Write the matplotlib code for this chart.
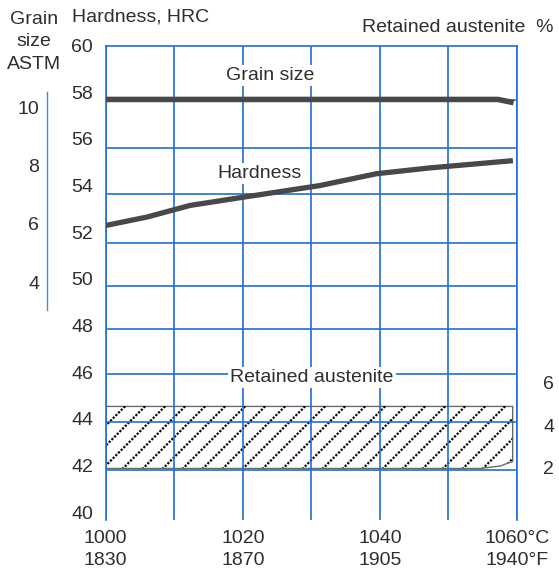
import numpy as np
import matplotlib.pyplot as plt

plt.rcParams['font.family'] = ['Liberation Sans', 'DejaVu Sans']

# hardening temperature, deg C (ticks) and the matching deg F labels
temp_ticks = [1000, 1020, 1040, 1060]
temp_labels = ['1000\n1830', '1020\n1870', '1040\n1905', '1060°C\n1940°F']

# hardness curve (HRC)
hard_temp = [1000, 1006, 1012.3, 1020, 1031.2, 1039.5, 1047.3, 1059.4]
hard_hrc = [52.29, 52.65, 53.15, 53.50, 54.0, 54.51, 54.76, 55.07]

# grain size curve (ASTM)
grain_temp = [1000, 1057.2, 1059.5]
grain_astm = [10.26, 10.26, 10.15]

# retained austenite band (%)
aust_temp = [1000, 1054.6, 1057.5, 1059.3]
aust_low = [2.0, 2.0, 2.12, 2.33]
aust_high = [4.92, 4.92, 4.92, 4.92]

hrc_ticks = list(range(40, 61, 2))
astm_ticks = [4, 6, 8, 10]
aust_ticks = [2, 4, 6]

# horizontal rules as drawn in the original (not quite on the labels)
grid_hrc = [57.69, 55.63, 53.66, 51.52, 49.68, 47.84, 45.91, 43.85, 41.80]

blue = '#1f6fd3'
ink = '#2e2e2e'
curve = '#484848'

fig = plt.figure(figsize=(5.59, 5.72), dpi=100)
fig.patch.set_facecolor('white')
rect = [105.7 / 559, 1 - 520 / 572, (517 - 105.7) / 559, (520 - 45.7) / 572]

ax = fig.add_axes(rect)
ax_r = ax.twinx()
ax_g = ax.twinx()
ax_r.set_zorder(0)
ax.set_zorder(1)
ax_g.set_zorder(2)
for a in (ax, ax_r, ax_g):
    a.patch.set_visible(False)

ax.set_xlim(1000, 1060)
ax.set_ylim(39.66, 59.97)
ax_g.set_ylim(-4.14, 12.10)
ax_r.set_ylim(-0.447, 21.87)

# main frame and grid
for s in ('top', 'left', 'right'):
    ax.spines[s].set_color(blue)
    ax.spines[s].set_linewidth(1.2)
ax.spines['bottom'].set_visible(False)
ax.set_xticks(temp_ticks)
ax.set_xticklabels(temp_labels, linespacing=1.38)
ax.set_xticks([1010, 1030, 1050], minor=True)
ax.tick_params(axis='x', which='both', length=0, pad=7, labelsize=14, labelcolor=ink)
ax.grid(axis='x', which='both', color=blue, lw=1.2)
ax.set_yticks(hrc_ticks)
ax.tick_params(axis='y', length=0, pad=9, labelsize=14, labelcolor=ink)
for lvl in grid_hrc:
    ax.axhline(lvl, xmin=0.006, xmax=0.995, color=blue, lw=1.2, zorder=1)

ax.plot(hard_temp, hard_hrc, color=curve, lw=3.8, solid_capstyle='butt', zorder=4)

box = dict(facecolor='white', edgecolor='none', pad=1.5)
ax.text(1024, 58.72, 'Grain size', ha='center', va='center', fontsize=14, color=ink, bbox=box, zorder=3)
ax.text(1022.5, 54.52, 'Hardness', ha='center', va='center', fontsize=14, color=ink, bbox=box, zorder=3)
ax.text(1030.1, 45.78, 'Retained austenite', ha='center', va='center', fontsize=14, color=ink, bbox=box, zorder=3)

# grain size axis on the far left
for s in ax_g.spines.values():
    s.set_visible(False)
ax_g.yaxis.set_ticks_position('left')
ax_g.spines['left'].set_visible(True)
ax_g.spines['left'].set_position(('outward', 42))
ax_g.spines['left'].set_bounds(3.05, 10.51)
ax_g.spines['left'].set_color('#3a8ee0')
ax_g.spines['left'].set_linewidth(1.0)
ax_g.set_yticks(astm_ticks)
ax_g.tick_params(axis='y', length=0, pad=6, labelsize=14, labelcolor=ink)
ax_g.plot(grain_temp, grain_astm, color=curve, lw=4.0, solid_capstyle='butt')

# retained austenite band with dotted hatching
for s in ax_r.spines.values():
    s.set_visible(False)
ax_r.set_yticks(aust_ticks)
ax_r.tick_params(axis='y', length=0, pad=19, labelsize=14, labelcolor=ink)
band = ax_r.fill_between(aust_temp, aust_low, aust_high, facecolor='white',
                         edgecolor='#6a6a6a', lw=1.0)
W = rect[2] * 559
H = rect[3] * 572
for xs in np.arange(-H / W, 1.0, 20 / W):
    ln, = ax_r.plot([xs, xs + H / W], [0, 1], transform=ax_r.transAxes,
                    color='black', lw=1.6, linestyle=(0, (1.0, 0.7)))
    ln.set_clip_path(band.get_paths()[0], ax_r.transData)

# headers
fig.text(34 / 559, 1 - 42 / 572, 'Grain\nsize\nASTM', ha='center', va='center',
         fontsize=14, color=ink, linespacing=1.42)
fig.text(72 / 559, 1 - 17 / 572, 'Hardness, HRC', ha='left', va='center',
         fontsize=14, color=ink)
fig.text(554 / 559, 1 - 28 / 572, 'Retained austenite  %', ha='right', va='center',
         fontsize=14, color=ink)

fig.savefig('out.png', dpi=100, facecolor='white')
